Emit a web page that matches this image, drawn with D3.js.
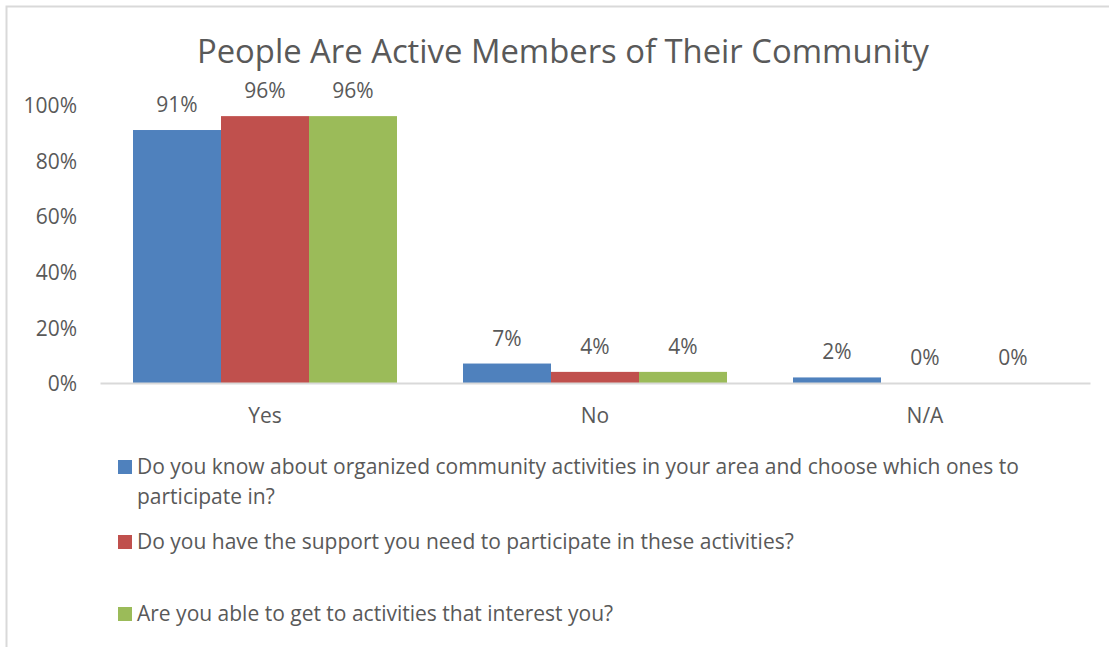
<!DOCTYPE html>
<html>
<head>
<meta charset="utf-8">
<script src="https://cdn.jsdelivr.net/npm/d3@7"></script>
<style>
  html, body { margin: 0; padding: 0; background: #fff; }
  svg { display: block; font-family: "Open Sans", Lato, sans-serif; }
</style>
</head>
<body>
<svg id="chart" width="1109" height="647"></svg>
<script>
// Survey answers per category, one array per question (percent)
const categories = ["Yes", "No", "N/A"];
const seriesNames = [
  "Do you know about organized community activities in your area and choose which ones to participate in?",
  "Do you have the support you need to participate in these activities?",
  "Are you able to get to activities that interest you?"
];
// Legend lines as wrapped in the legend box
const legendLines = [
  ["Do you know about organized community activities in your area and choose which ones to", "participate in?"],
  ["Do you have the support you need to participate in these activities?"],
  ["Are you able to get to activities that interest you?"]
];
const knowActivities = [91, 7, 2];
const haveSupport = [96, 4, 0];
const getToActivities = [96, 4, 0];
const seriesValues = [knowActivities, haveSupport, getToActivities];
const yTicks = [0, 20, 40, 60, 80, 100];
const colors = ["#4F81BD", "#C0504D", "#9BBB59"];

const svg = d3.select("#chart");
const textColor = "#595959";
const font = "'Open Sans', Lato, sans-serif";
const fs = 21;

// Outer chart frame
svg.append("rect")
  .attr("x", 6.5).attr("y", 6.5)
  .attr("width", 1120).attr("height", 700)
  .attr("fill", "#fff").attr("stroke", "#D9D9D9").attr("stroke-width", 2);

// Title
svg.append("text")
  .attr("x", 563).attr("y", 63)
  .attr("text-anchor", "middle")
  .attr("fill", textColor)
  .attr("font-size", 32.8)
  .text("People Are Active Members of Their Community");

const plot = { left: 100, right: 1090, top: 105, bottom: 383 };

const x0 = d3.scaleBand()
  .domain(categories)
  .range([plot.left, plot.right])
  .paddingInner(0).paddingOuter(0);

// 75% gap between groups: bar = band/(3 + 0.75)
const barW = x0.bandwidth() / (seriesValues.length + 0.75);
const groupOffset = barW * 0.375;

const y = d3.scaleLinear().domain([0, 100]).range([plot.bottom, plot.top]);

// Y axis labels
const yAxis = d3.axisLeft(y)
  .tickValues(yTicks)
  .tickFormat(d => d + "%")
  .tickSize(0)
  .tickPadding(0);
const yG = svg.append("g")
  .attr("transform", `translate(77,1)`)
  .call(yAxis);
yG.select(".domain").remove();
yG.selectAll("text")
  .attr("fill", textColor)
  .attr("font-size", fs)
  .attr("font-family", font);

// Bars and value labels
const groups = svg.append("g").selectAll("g")
  .data(seriesValues)
  .join("g")
  .attr("fill", (d, i) => colors[i]);

groups.each(function(vals, si) {
  const g = d3.select(this);
  const rows = vals.map((v, ci) => ({ v, c: categories[ci] }));
  g.selectAll("rect")
    .data(rows)
    .join("rect")
    .attr("x", d => x0(d.c) + groupOffset + si * barW)
    .attr("y", d => y(d.v))
    .attr("width", barW)
    .attr("height", d => y(0) - y(d.v));

  g.selectAll("text")
    .data(rows)
    .join("text")
    .attr("x", d => x0(d.c) + groupOffset + si * barW + barW / 2)
    .attr("y", d => y(d.v) - 18)
    .attr("text-anchor", "middle")
    .attr("fill", textColor)
    .attr("font-size", fs)
    .text(d => d.v + "%");
});

// Category axis (baseline)
const xAxis = d3.axisBottom(x0).tickSize(0).tickPadding(0);
const xG = svg.append("g")
  .attr("transform", `translate(0,${plot.bottom})`)
  .call(xAxis);
xG.select(".domain").attr("stroke", "#D9D9D9").attr("stroke-width", 2);
xG.selectAll("text")
  .attr("fill", textColor)
  .attr("font-size", fs)
  .attr("font-family", font)
  .attr("dy", 0)
  .attr("y", 40);

// Legend
const legendRows = [467, 542, 614];
const legend = svg.append("g");
legendLines.forEach((lines, i) => {
  legend.append("rect")
    .attr("x", 118).attr("y", legendRows[i] - 7)
    .attr("width", 14).attr("height", 14)
    .attr("fill", colors[i]);
  const t = legend.append("text")
    .attr("fill", textColor)
    .attr("font-size", fs)
    .attr("x", 137).attr("y", legendRows[i] + 7);
  lines.forEach((line, li) => {
    t.append("tspan")
      .attr("x", 137)
      .attr("dy", li === 0 ? 0 : 30)
      .text(line);
  });
});
</script>
</body>
</html>
